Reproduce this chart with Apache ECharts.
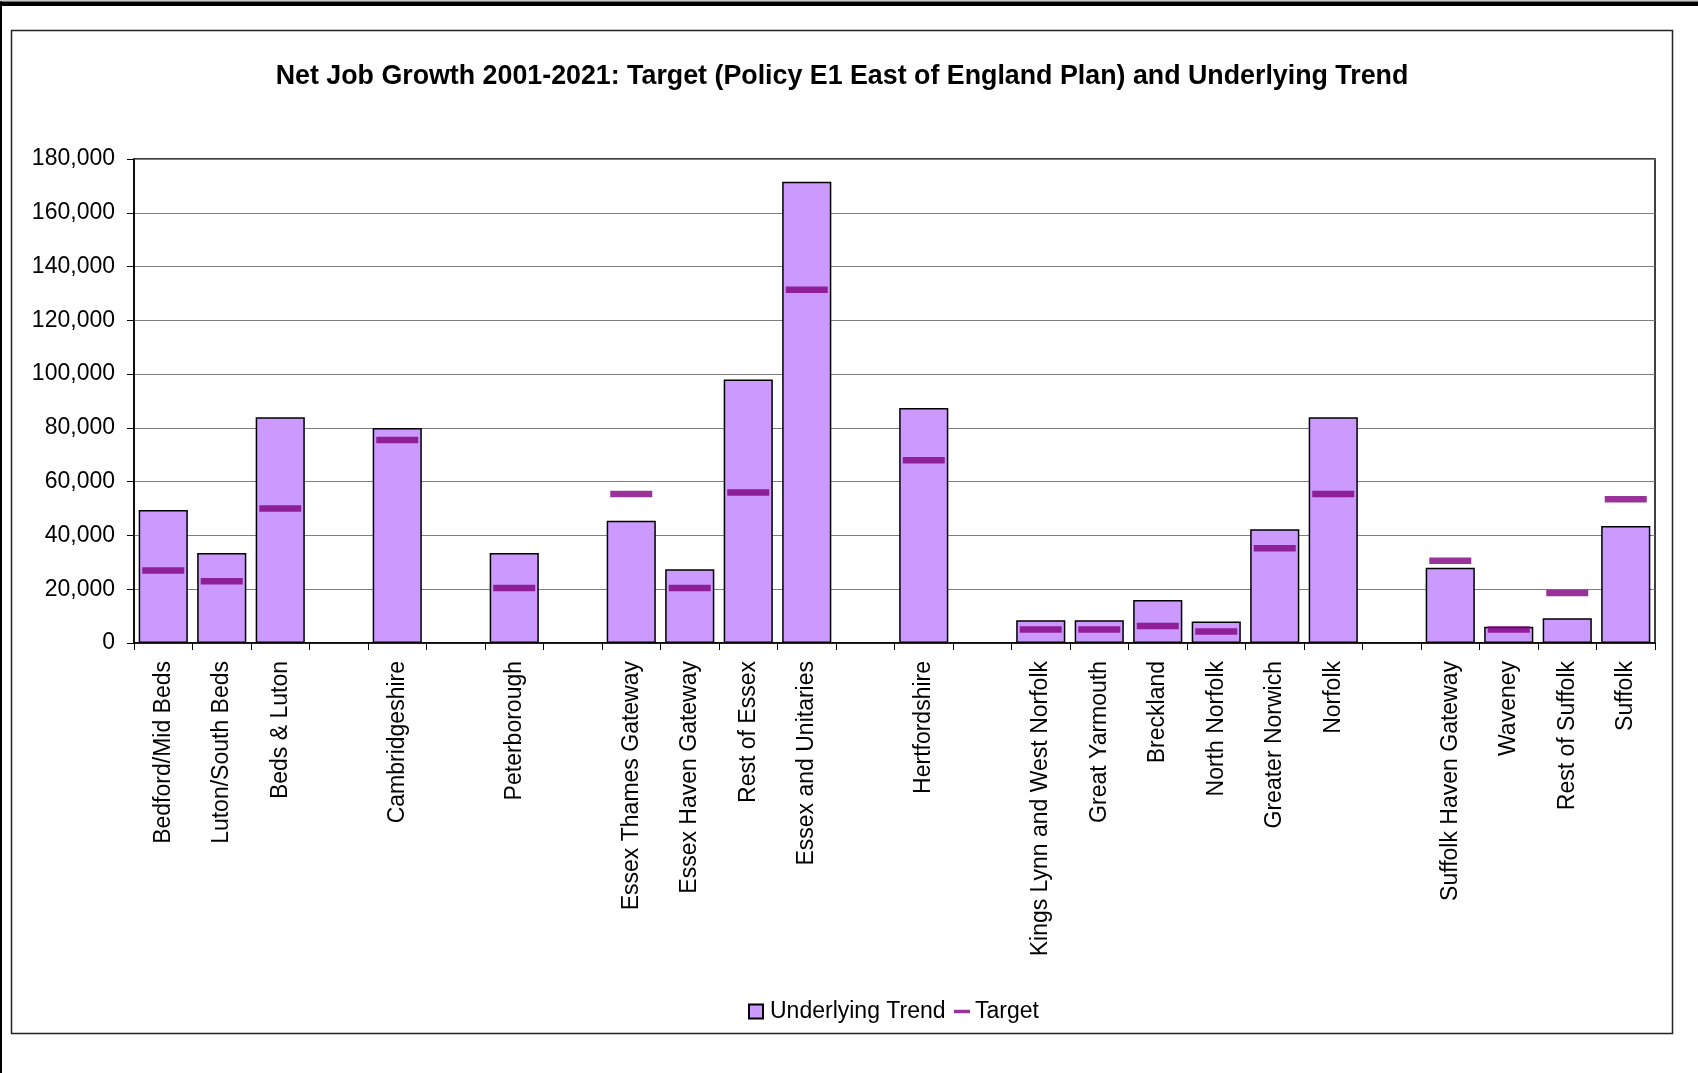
<!DOCTYPE html>
<html>
<head>
<meta charset="utf-8">
<title>Net Job Growth 2001-2021</title>
<script src="https://cdn.jsdelivr.net/npm/echarts@6/dist/echarts.min.js"></script>
<style>
  html, body { margin: 0; padding: 0; background: #fff; }
  #chart { width: 1698px; height: 1073px; }
</style>
</head>
<body>
<div id="chart"></div>
<script>
// Areas of the East of England; empty strings are spacer slots between counties
const categories = [
  'Bedford/Mid Beds', 'Luton/South Beds', 'Beds & Luton', '',
  'Cambridgeshire', '', 'Peterborough', '',
  'Essex Thames Gateway', 'Essex Haven Gateway', 'Rest of Essex', 'Essex and Unitaries', '',
  'Hertfordshire', '',
  'Kings Lynn and West Norfolk', 'Great Yarmouth', 'Breckland', 'North Norfolk', 'Greater Norwich', 'Norfolk', '',
  'Suffolk Haven Gateway', 'Waveney', 'Rest of Suffolk', 'Suffolk'
];

// Underlying trend in net job growth
const underlyingTrend = [
  49500, 33500, 84000, null,
  80000, null, 33500, null,
  45500, 27400, 98000, 171500, null,
  87400, null,
  8500, 8500, 16000, 8000, 42300, 84000, null,
  28000, 6000, 9200, 43500
];

// Policy E1 target
const target = [
  27000, 23000, 50000, null,
  75500, null, 20500, null,
  55400, 20500, 56000, 131400, null,
  68000, null,
  5000, 5000, 6300, 4300, 35200, 55400, null,
  30600, 5000, 18600, 53500
];

const yTicks = { min: 0, max: 180000, interval: 20000 };

const FONT = "'Liberation Sans', Arial, sans-serif";

const chart = echarts.init(document.getElementById('chart'), null, { renderer: 'canvas' });

chart.setOption({
  backgroundColor: '#ffffff',
  animation: false,
  textStyle: { fontFamily: FONT, color: '#000' },
  title: {
    text: 'Net Job Growth 2001-2021: Target (Policy E1 East of England Plan) and Underlying Trend',
    left: 837,
    top: 58,
    textAlign: 'center',
    textStyle: { fontFamily: FONT, fontSize: 26.8, fontWeight: 'bold', color: '#000' }
  },
  legend: [
    {
      data: [{ name: 'Underlying Trend', icon: 'rect' }],
      left: 743,
      top: 995,
      itemWidth: 14,
      itemHeight: 14,
      textStyle: { fontFamily: FONT, fontSize: 23, color: '#000', padding: [0, 0, 0, 2] },
      selectedMode: false
    },
    {
      data: [{ name: 'Target', icon: 'rect' }],
      left: 949,
      top: 995,
      itemWidth: 16,
      itemHeight: 3.5,
      textStyle: { fontFamily: FONT, fontSize: 23, color: '#000' },
      selectedMode: false
    }
  ],
  grid: {
    left: 134,
    right: 43,
    top: 159,
    bottom: 430,
    show: true,
    borderColor: '#000',
    borderWidth: 1.5,
    containLabel: false
  },
  xAxis: {
    type: 'category',
    data: categories,
    boundaryGap: true,
    axisLine: { show: true, lineStyle: { color: '#000', width: 1.5 } },
    axisTick: { show: true, interval: 0, length: 7, alignWithLabel: false, lineStyle: { color: '#000', width: 1 } },
    axisLabel: {
      interval: 0,
      rotate: 90,
      margin: 18,
      fontFamily: FONT,
      fontSize: 23,
      color: '#000'
    },
    splitLine: { show: false }
  },
  yAxis: {
    type: 'value',
    min: yTicks.min,
    max: yTicks.max,
    interval: yTicks.interval,
    axisLine: { show: true, lineStyle: { color: '#000', width: 1.5 } },
    axisTick: { show: true, length: 7, lineStyle: { color: '#000', width: 1 } },
    axisLabel: {
      margin: 19,
      fontFamily: FONT,
      fontSize: 23,
      color: '#000',
      formatter: v => v.toLocaleString('en-GB')
    },
    splitLine: { show: true, lineStyle: { color: '#7f7f7f', width: 1.2 } }
  },
  series: [
    {
      name: 'Underlying Trend',
      type: 'bar',
      data: underlyingTrend,
      barCategoryGap: '16%',
      itemStyle: { color: '#CC99FF', borderColor: '#000', borderWidth: 1.5 }
    },
    {
      name: 'Target',
      type: 'scatter',
      data: target,
      symbol: 'rect',
      symbolSize: [42, 6.5],
      itemStyle: { color: '#800080' },
      z: 3
    }
  ],
  graphic: [
    // page edge lines
    { type: 'rect', shape: { x: 0, y: 0, width: 1698, height: 1.5 }, style: { fill: '#c8c8c8' }, silent: true },
    { type: 'rect', shape: { x: 0, y: 1.5, width: 1698, height: 4.5 }, style: { fill: '#000' }, silent: true },
    { type: 'rect', shape: { x: 0, y: 1.5, width: 2, height: 1072 }, style: { fill: '#000' }, silent: true },
    // chart area frame
    {
      type: 'rect',
      shape: { x: 11.5, y: 30.5, width: 1661, height: 1003 },
      style: { fill: 'none', stroke: '#222', lineWidth: 1.5 },
      silent: true,
      z: -1
    }
  ]
});
</script>
</body>
</html>
